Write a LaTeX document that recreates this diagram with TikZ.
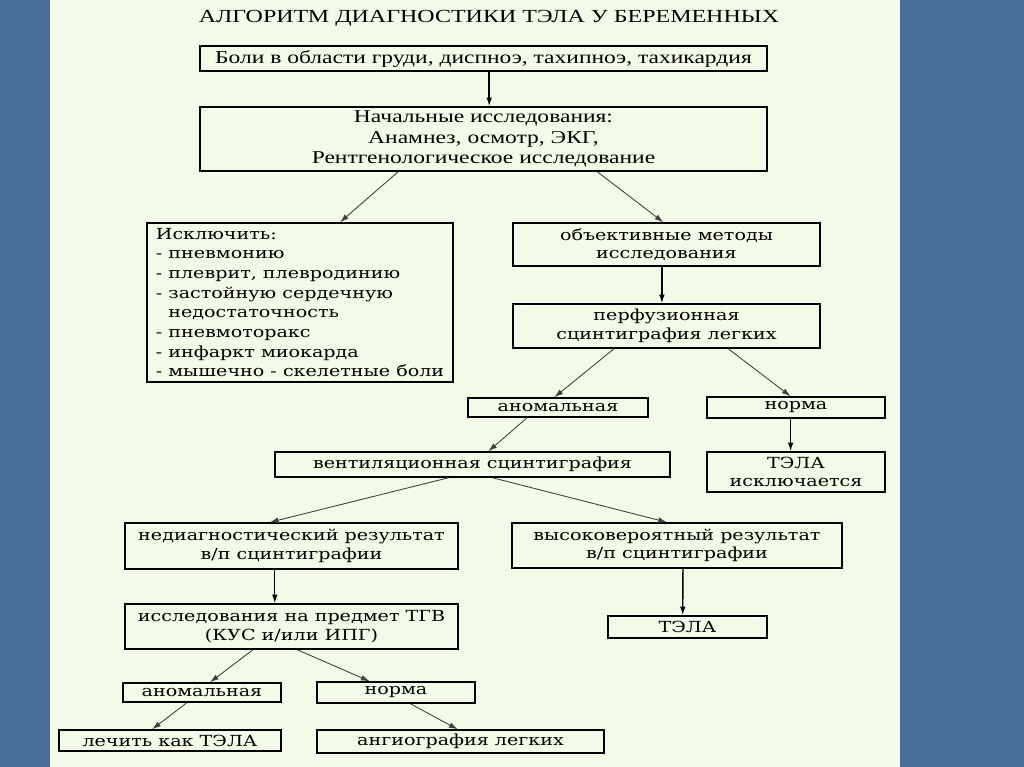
\documentclass[tikz,border=0pt]{standalone}
\usepackage{fontspec}
\setmainfont{Liberation Serif}[FakeStretch=1.3]
\newfontfamily\lowfont{DejaVu Serif}[FakeStretch=1.25]
\usetikzlibrary{arrows.meta,calc}
\definecolor{slide}{RGB}{74,110,154}
\definecolor{paper}{RGB}{243,250,231}
\tikzset{
  >={Latex[length=5pt,width=3.2pt]},
  box/.style 2 args ={draw, line width=0.8pt, inner sep=0,
                 minimum width=#1*0.02cm, minimum height=#2*0.02cm},
  topbox/.style 2 args ={box={#1}{#2}, align=center,
                 font=\fontsize{10.3}{11.6}\selectfont},
  lowbox/.style 2 args ={box={#1}{#2}, align=center,
                 font=\lowfont\fontsize{8.7}{10.6}\selectfont},
  link/.style ={->, line width=0.5pt, draw=black!75},
  down/.style ={->, line width=0.8pt, draw=black},
}
\begin{document}
\begin{tikzpicture}[x=0.02cm,y=-0.02cm]
\useasboundingbox (0,0) rectangle (1024,767);
\fill[slide] (0,0) rectangle (1024,767);
\fill[paper] (50,0) rectangle (900,767);
\node (title) at (489,18) {\fontsize{10.5}{12}\selectfont АЛГОРИТМ ДИАГНОСТИКИ ТЭЛА У БЕРЕМЕННЫХ};
% top part
\node[topbox={567}{25}] (pain) at (483.5,58.5) {Боли в области груди, диспноэ, тахипноэ, тахикардия};
\node[topbox={567}{64}] (init) at (483.5,139) {Начальные исследования:\\ Анамнез, осмотр, ЭКГ,\\ Рентгенологическое исследование};
\node[box={306}{159}, align=left, font=\lowfont\fontsize{8.7}{11.2}\selectfont] (excl) at (300,302.5)
  {Исключить:\\ - пневмонию\\ - плеврит, плевродинию\\ - застойную сердечную\\ \phantom{- }недостаточность\\
   - пневмоторакс\\ - инфаркт миокарда\\ - мышечно - скелетные боли};
\node[lowbox={307}{43}] (obj) at (666.5,244.5) {объективные методы\\ исследования};
\node[lowbox={307}{44}] (perf) at (666.5,326) {перфузионная\\ сцинтиграфия легких};
\node[lowbox={180}{19}] (anom) at (558,407.5) {аномальная};
\node[lowbox={178}{21}] (norm) at (796,407.5) {норма};
\node[lowbox={178}{40}] (nope) at (796,472) {ТЭЛА\\ исключается};
\node[lowbox={395}{25}] (vent) at (472.5,464.5) {вентиляционная сцинтиграфия};
% bottom part
\node[lowbox={333}{46}] (nondiag) at (291.5,546) {недиагностический результат\\ в/п сцинтиграфии};
\node[lowbox={330}{45}] (high) at (677,545.5) {высоковероятный результат\\ в/п сцинтиграфии};
\node[lowbox={333}{45}] (tgv) at (291.5,626.5) {исследования на предмет ТГВ\\ (КУС и/или ИПГ)};
\node[lowbox={159}{22}] (pe) at (687.5,627) {ТЭЛА};
\node[lowbox={158}{19}] (anom2) at (202,692.5) {аномальная};
\node[lowbox={158}{21}] (norm2) at (396,692.5) {норма};
\node[lowbox={222}{21}] (treat) at (170,740.5) {лечить как ТЭЛА};
\node[lowbox={287}{23}] (angio) at (460.5,741.5) {ангиография легких};
% arrows
\draw[down] ($(pain.south west)!.51!(pain.south east)$) -- ($(init.north west)!.51!(init.north east)$);
\draw[link] ($(init.south west)!.35!(init.south east)$) -- ($(excl.north west)!.63!(excl.north east)$);
\draw[link] ($(init.south west)!.70!(init.south east)$) -- ($(obj.north west)!.49!(obj.north east)$);
\draw[down] ($(obj.south west)!.485!(obj.south east)$) -- ($(perf.north west)!.485!(perf.north east)$);
\draw[link] ($(perf.south west)!.33!(perf.south east)$) -- ($(anom.north west)!.48!(anom.north east)$);
\draw[link] ($(perf.south west)!.70!(perf.south east)$) -- ($(norm.north west)!.47!(norm.north east)$);
\draw[down] ($(norm.south west)!.47!(norm.south east)$) -- ($(nope.north west)!.47!(nope.north east)$);
\draw[link] ($(anom.south west)!.33!(anom.south east)$) -- ($(vent.north west)!.54!(vent.north east)$);
\draw[link] ($(vent.south west)!.44!(vent.south east)$) -- ($(nondiag.north west)!.435!(nondiag.north east)$);
\draw[link] ($(vent.south west)!.55!(vent.south east)$) -- ($(high.north west)!.47!(high.north east)$);
\draw[down] ($(nondiag.south west)!.45!(nondiag.south east)$) -- ($(tgv.north west)!.45!(tgv.north east)$);
\draw[down] ($(high.south west)!.518!(high.south east)$) -- ($(pe.north west)!.47!(pe.north east)$);
\draw[link] ($(tgv.south west)!.385!(tgv.south east)$) -- ($(anom2.north west)!.55!(anom2.north east)$);
\draw[link] ($(tgv.south west)!.517!(tgv.south east)$) -- ($(norm2.north west)!.335!(norm2.north east)$);
\draw[link] ($(anom2.south west)!.405!(anom2.south east)$) -- ($(treat.north west)!.42!(treat.north east)$);
\draw[link] ($(norm2.south west)!.59!(norm2.south east)$) -- ($(angio.north west)!.49!(angio.north east)$);
\end{tikzpicture}
\end{document}
